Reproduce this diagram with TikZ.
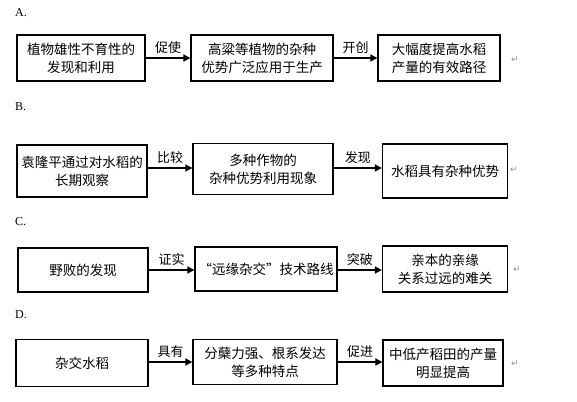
\documentclass[tikz,border=0pt]{standalone}
\usepackage{fontspec}
\setmainfont{Liberation Serif}
\newfontfamily\cjkfont{Noto Sans CJK SC}
\newfontfamily\markfont{DejaVu Sans}
\usetikzlibrary{arrows.meta, positioning}

\tikzset{
  stagebox/.style={draw, line width=1.3pt, align=center, inner sep=1pt,
    font=\cjkfont\fontsize{13.5}{18}\selectfont},
  leadarrow/.style={line width=2.4pt, -{Triangle[length=7pt, width=7pt]}},
  leadlabel/.style={above=2pt, inner sep=1pt, font=\cjkfont\fontsize{13}{14}\selectfont},
  rowtag/.style={anchor=west, inner sep=0pt, font=\fontsize{12}{14}\selectfont},
  parmark/.style={inner sep=0pt, text=black!45, font=\markfont\fontsize{9}{10}\selectfont}
}

\begin{document}
\begin{tikzpicture}[x=1pt, y=-1pt]
  \useasboundingbox (0,0) rectangle (577,401);
  \fill[white] (0,0) rectangle (577,401);

  % A
  \node[rowtag] (tagA) at (15,13) {A.\textcolor{black!45}{\tiny·}};
  \node[stagebox, minimum width=128, minimum height=46] (a1) at (81,58) {植物雄性不育性的\\发现和利用};
  \node[stagebox, minimum width=142, minimum height=46] (a2) at (262,58) {高粱等植物的杂种\\优势广泛应用于生产};
  \node[stagebox, minimum width=122, minimum height=46] (a3) at (439,58) {大幅度提高水稻\\产量的有效路径};
  \draw[leadarrow] (a1.east) -- node[leadlabel] {促使} (a1.east -| a2.west);
  \draw[leadarrow] (a2.east) -- node[leadlabel] {开创} (a2.east -| a3.west);
  \node[parmark] (retA) at (515,60) {↵};

  % B
  \node[rowtag] (tagB) at (15,107) {B.\textcolor{black!45}{\tiny·}};
  \node[stagebox, minimum width=130, minimum height=52] (b1) at (82,171) {袁隆平通过对水稻的\\长期观察};
  \node[stagebox, minimum width=140, minimum height=51] (b2) at (263,169) {多种作物的\\杂种优势利用现象};
  \node[stagebox, minimum width=125, minimum height=54] (b3) at (445,171) {水稻具有杂种优势};
  \draw[leadarrow] (b1.east |- 0,168) -- node[leadlabel] {比较} (b2.west |- 0,168);
  \draw[leadarrow] (b2.east |- 0,168) -- node[leadlabel] {发现} (b3.west |- 0,168);
  \node[parmark] (retB) at (514,170) {↵};

  % C
  \node[rowtag] (tagC) at (15,222) {C.\textcolor{black!45}{\tiny·}};
  \node[stagebox, minimum width=130, minimum height=44] (c1) at (83,270) {野败的发现};
  \node[stagebox, minimum width=142, minimum height=44] (c2) at (266,269) {“远缘杂交”技术路线};
  \node[stagebox, minimum width=125, minimum height=46] (c3) at (445,269) {亲本的亲缘\\关系过远的难关};
  \draw[leadarrow] (c1.east |- 0,270) -- node[leadlabel] {证实} (c2.west |- 0,270);
  \draw[leadarrow] (c2.east |- 0,270) -- node[leadlabel] {突破} (c3.west |- 0,270);
  \node[parmark] (retC) at (517,270) {↵};

  % D
  \node[rowtag] (tagD) at (15,315) {D.\textcolor{black!45}{\tiny·}};
  \node[stagebox, minimum width=132, minimum height=47] (d1) at (82,363) {杂交水稻};
  \node[stagebox, minimum width=144, minimum height=45] (d2) at (265,362) {分蘖力强、根系发达\\等多种特点};
  \node[stagebox, minimum width=120, minimum height=46] (d3) at (443,363) {中低产稻田的产量\\明显提高};
  \draw[leadarrow] (d1.east |- 0,362) -- node[leadlabel] {具有} (d2.west |- 0,362);
  \draw[leadarrow] (d2.east |- 0,362) -- node[leadlabel] {促进} (d3.west |- 0,362);
  \node[parmark] (retD) at (515,364) {↵};
\end{tikzpicture}
\end{document}
